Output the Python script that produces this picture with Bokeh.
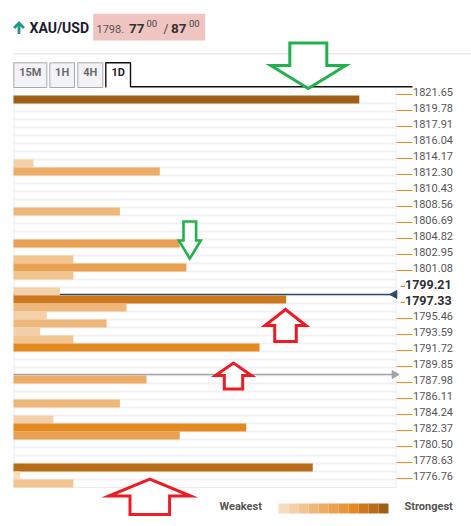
from bokeh.plotting import figure
from bokeh.models import Range1d
from bokeh.core.properties import value
from bokeh.embed import file_html
from bokeh.resources import INLINE

# ---------------- data ----------------
symbol = "XAU/USD"
bid_main, bid_big, bid_small = "1798.", "77", "00"
ask_big, ask_small = "87", "00"
tabs = ["15M", "1H", "4H", "1D"]

tick_prices = [1821.65, 1819.78, 1817.91, 1816.04, 1814.17, 1812.30, 1810.43,
               1808.56, 1806.69, 1804.82, 1802.95, 1801.08, 1799.21, 1797.33,
               1795.46, 1793.59, 1791.72, 1789.85, 1787.98, 1786.11, 1784.24,
               1782.37, 1780.50, 1778.63, 1776.76]
bold_ticks = [1799.21, 1797.33]

level_prices = [1821.07, 1813.59, 1812.65, 1807.98, 1804.24, 1802.37, 1801.43,
                1800.50, 1798.63, 1797.69, 1796.76, 1795.82, 1794.89, 1793.95,
                1793.02, 1792.08, 1788.34, 1785.54, 1783.67, 1782.73, 1781.80,
                1778.06, 1777.12, 1776.19]
level_strength = [52, 3, 22, 16, 25, 9, 26, 9, 7, 41, 17, 5, 14, 4, 9, 37,
                  20, 16, 6, 35, 25, 45, 1, 9]

current_price = 1798.28
prev_close = 1788.92

shades = ["#f8dcc0", "#f4d0a8", "#f1c490", "#efb87a", "#ecac66", "#e9a050",
          "#e7963c", "#e48a20", "#ce781e", "#b86c18", "#a05f14"]

# ---------------- layout helpers (pixel -> data) ----------------
PXU = 6.65            # pixels per strength unit
PPP = 1.87 / 16.0     # price per pixel
def X(px):
    return (px - 13) / PXU
def Y(py):
    return 1821.65 - (py - 94) * PPP

W, H = 471, 526
p = figure(width=W, height=H, output_backend="svg", toolbar_location=None,
           x_range=Range1d(X(0), X(W)), y_range=Range1d(Y(H), Y(0)),
           x_axis_location=None, y_axis_location=None,
           min_border_left=0, min_border_right=0, min_border_top=0,
           min_border_bottom=0, outline_line_color=None,
           background_fill_color="white", border_fill_color="white")
p.xgrid.visible = False
p.ygrid.visible = False

FONT = value("Roboto")

# row stripes
row_step = 8 * PPP
stripe_ys = [Y(95 + 8 * j) for j in range(1, 49)]
p.segment(x0=[X(13)] * len(stripe_ys), x1=[X(395)] * len(stripe_ys),
          y0=stripe_ys, y1=stripe_ys, line_color="#f1f1f5", line_width=2)

# bar area border
p.segment(x0=[X(13.5), X(395.5), X(13)], y0=[Y(87), Y(87), Y(487)],
          x1=[X(13.5), X(395.5), X(396)], y1=[Y(487), Y(487), Y(487)],
          line_color="#ececf0", line_width=1)

# current price line + marker
p.segment(x0=[X(13)], y0=[current_price], x1=[X(393)], y1=[current_price],
          line_color="#2c4a6b", line_width=1.5)
p.scatter(x=[X(394)], y=[current_price], marker="triangle", angle=1.5708,
          size=8, color="#2c4a6b")
# previous close line + arrow
p.segment(x0=[X(13)], y0=[prev_close], x1=[X(393)], y1=[prev_close],
          line_color="#a4a4ac", line_width=1.5)
p.scatter(x=[X(394)], y=[prev_close], marker="triangle", angle=-1.5708,
          size=8, color="#a4a4ac")

# bars
bar_colors = [shades[min(10, int(round(s / 5.2)))] for s in level_strength]
p.hbar(y=level_prices, left=0, right=level_strength, height=row_step,
       color=bar_colors, line_color=None)

# price scale (ticks + labels on the right)
norm_ticks = [t for t in tick_prices if t not in bold_ticks]
p.segment(x0=[X(396)] * len(norm_ticks), x1=[X(412)] * len(norm_ticks),
          y0=norm_ticks, y1=norm_ticks, line_color="#e8891d", line_width=1)
p.segment(x0=[X(400)] * len(bold_ticks), x1=[X(404.5)] * len(bold_ticks),
          y0=bold_ticks, y1=bold_ticks, line_color="#e8891d", line_width=1)
p.text(x=[X(412.5)] * len(norm_ticks), y=[t + 2.3 * PPP for t in norm_ticks],
       text=[f"{t:.2f}" for t in norm_ticks], text_font=FONT,
       text_font_size="11px", text_color="#555555", text_baseline="middle")
p.text(x=[X(404.5)] * len(bold_ticks), y=[t + 2.0 * PPP for t in bold_ticks],
       text=[f"{t:.2f}" for t in bold_ticks], text_font=FONT,
       text_font_size="12.5px", text_font_style="bold", text_color="#2d2d33",
       text_baseline="middle")

# ---------------- header ----------------
p.multi_line(xs=[[X(18.5), X(18.5)], [X(13.6), X(18.5), X(23.4)]],
             ys=[[Y(33.5), Y(22.6)], [Y(27.6), Y(22.6), Y(27.6)]],
             line_color="#1d9a8c", line_width=2.8, line_join="miter")
p.text(x=[X(29)], y=[Y(27.5)], text=[symbol], text_font=FONT,
       text_font_size="14px", text_font_style="bold", text_color="#1b1b2f",
       text_baseline="middle")
p.quad(left=[X(92.7)], right=[X(204.7)], top=[Y(13.3)], bottom=[Y(40)],
       color="#f0c5c1", line_color=None)
p.text(x=[X(96)], y=[Y(28.9)], text=[bid_main], text_font=FONT,
       text_font_size="11px", text_color="#555555", text_baseline="middle")
p.text(x=[X(128.5), X(170.5)], y=[Y(27.7)] * 2, text=[bid_big, ask_big],
       text_font=FONT, text_font_size="13.5px", text_font_style="bold",
       text_color="#333333", text_baseline="middle")
p.text(x=[X(146), X(188.5)], y=[Y(23.4)] * 2, text=[bid_small, ask_small],
       text_font=FONT, text_font_size="9.5px", text_color="#444444",
       text_baseline="middle")
p.text(x=[X(163)], y=[Y(28.2)], text=["/"], text_font=FONT,
       text_font_size="12px", text_color="#444444", text_baseline="middle")
p.segment(x0=[X(13)], y0=[Y(53.3)], x1=[X(471)], y1=[Y(53.3)],
          line_color="#e8e8ea", line_width=1.5)

# tabs
tab_l = [13.3, 49.3, 77.3]
tab_r = [46.3, 74.0, 102.3]
p.quad(left=[X(a) for a in tab_l], right=[X(b) for b in tab_r],
       top=[Y(62.3)] * 3, bottom=[Y(87)] * 3, fill_color="#f3f3f7",
       line_color="#a8a8ae", line_width=1)
p.line(x=[X(105.3), X(105.3), X(130), X(130), X(412)],
       y=[Y(87), Y(62.3), Y(62.3), Y(86.3), Y(86.3)],
       line_color="#111111", line_width=1.4)
tab_cx = [(a + b) / 2 for a, b in zip(tab_l + [105.3], tab_r + [130])]
p.text(x=[X(c) for c in tab_cx], y=[Y(72.3)] * 4, text=tabs, text_font=FONT,
       text_font_size="11px", text_font_style="bold",
       text_color=["#6a6a70"] * 3 + ["#222222"], text_align="center",
       text_baseline="middle")

# ---------------- legend ----------------
p.text(x=[X(219), X(404)], y=[Y(506.4)] * 2, text=["Weakest", "Strongest"],
       text_font=FONT, text_font_size="11px", text_font_style="bold",
       text_color="#555555", text_baseline="middle")
p.quad(left=[X(278 + 10 * i) for i in range(len(shades))],
       right=[X(288 + 10 * i) for i in range(len(shades))],
       top=[Y(503)] * len(shades), bottom=[Y(513)] * len(shades),
       color=shades, line_color=None)

# ---------------- hand-drawn arrows ----------------
def arrow(cx, shaft_half, head_half, end, base, tip):
    xs = [cx - shaft_half, cx + shaft_half, cx + shaft_half, cx + head_half,
          cx, cx - head_half, cx - shaft_half]
    ys = [end, end, base, base, tip, base, base]
    return [X(v) for v in xs], [Y(v) for v in ys]

g1 = arrow(307.8, 18.5, 37.5, 42.5, 65, 88)
g2 = arrow(189.3, 6.3, 11, 221, 240, 258)
p.patches(xs=[g1[0], g2[0]], ys=[g1[1], g2[1]], fill_color="white",
          line_color="#22b14c", line_width=[3, 2.6], line_join="miter")
r1 = arrow(285, 10.8, 20.5, 341, 325, 309)
r2 = arrow(233, 9.2, 18, 388.5, 375, 362.5)
r3 = arrow(149.3, 19.8, 41, 514, 495.5, 478.5)
p.patches(xs=[r1[0], r2[0], r3[0]], ys=[r1[1], r2[1], r3[1]],
          fill_color="white", line_color="#ed1c24", line_width=3,
          line_join="miter")

open("out.html", "w").write(file_html(p, INLINE))
